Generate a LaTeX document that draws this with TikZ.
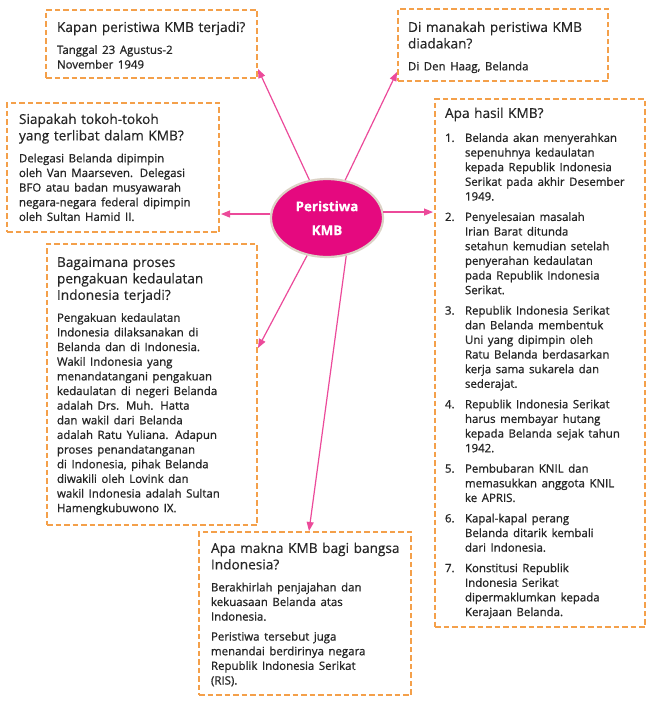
\documentclass[tikz,border=0pt]{standalone}
\usepackage{fontspec}
\setmainfont{Open Sans}[FakeBold=0.35]
\newfontfamily\bodyfont{Open Sans}[FakeBold=0.9]
\usetikzlibrary{arrows.meta,shapes.geometric}
\definecolor{mag}{HTML}{E5097F}
\definecolor{arrc}{HTML}{EC4A9A}
\definecolor{dashc}{HTML}{F4A04A}
\definecolor{txtc}{HTML}{262626}
\definecolor{rim}{HTML}{DCD2C6}
\setlength\parindent{0pt}
\setlength\parskip{0pt}
\newcommand\Hd{\fontsize{13.7}{16.5}\selectfont}
\newcommand\Bd{\bodyfont\fontsize{11.5}{14.7}\selectfont}
\newcommand\TB{\setlength\parindent{0pt}\setlength\parskip{0pt}\Hd}
\newcommand\HB{\par\vspace{7.3bp}\Bd}
\newcommand\IT[1]{\makebox[20bp][l]{#1}}
\newcommand\IN{\hspace*{20bp}}
\newcommand\IG{\par\vspace{5.8bp}}
\tikzset{
  box/.style={draw=dashc, line width=1.3bp, dash pattern=on 5.5bp off 3bp,
    anchor=north west, inner sep=0pt, outer sep=0pt},
  tblock/.style={anchor=north west, inner sep=0pt, outer sep=0pt,
    text width=#1, align=left, text=txtc, font=\TB},
  arr/.style={draw=arrc, line width=1.2bp, -{Triangle[length=9bp,width=7bp]}},
}
\begin{document}
\begin{tikzpicture}[x=1bp,y=-1bp]
\useasboundingbox[fill=white] (0,0) rectangle (650,701);
% boxes
\node[box, minimum width=211bp, minimum height=68bp] (b1) at (46,10) {};
\node[box, minimum width=212bp, minimum height=129bp] (b2) at (7,103) {};
\node[box, minimum width=210bp, minimum height=72bp] (b3) at (398,9) {};
\node[box, minimum width=210bp, minimum height=528bp] (b4) at (435,99) {};
\node[box, minimum width=210bp, minimum height=281bp] (b5) at (47,244) {};
\node[box, minimum width=212bp, minimum height=163bp] (b6) at (199,532) {};
% texts
\node[tblock=198bp] (t1) at (57,20.45) {\strut Kapan peristiwa KMB terjadi?\HB
Tanggal 23 Agustus-2\\November 1949\par};
\node[tblock=198bp] (t2) at (19,112.45) {\strut Siapakah tokoh-tokoh\\yang terlibat dalam KMB?\HB
Delegasi Belanda dipimpin\\oleh Van Maarseven. Delegasi\\BFO atau badan musyawarah\\negara-negara federal dipimpin\\oleh Sultan Hamid II.\par};
\node[tblock=198bp] (t3) at (408,20.45) {\strut Di manakah peristiwa KMB\\diadakan?\HB
Di Den Haag, Belanda\par};
\node[tblock=198bp] (t4) at (445,106.45) {\strut Apa hasil KMB?\par\vspace{9.3bp}\Bd
\IT{1.}Belanda akan menyerahkan\\\IN sepenuhnya kedaulatan\\\IN kepada Republik Indonesia\\\IN Serikat pada akhir Desember\\\IN 1949.\IG
\IT{2.}Penyelesaian masalah\\\IN Irian Barat ditunda\\\IN setahun kemudian setelah\\\IN penyerahan kedaulatan\\\IN pada Republik Indonesia\\\IN Serikat.\IG
\IT{3.}Republik Indonesia Serikat\\\IN dan Belanda membentuk\\\IN Uni yang dipimpin oleh\\\IN Ratu Belanda berdasarkan\\\IN kerja sama sukarela dan\\\IN sederajat.\IG
\IT{4.}Republik Indonesia Serikat\\\IN harus membayar hutang\\\IN kepada Belanda sejak tahun\\\IN 1942.\IG
\IT{5.}Pembubaran KNIL dan\\\IN memasukkan anggota KNIL\\\IN ke APRIS.\IG
\IT{6.}Kapal-kapal perang\\\IN Belanda ditarik kembali\\\IN dari Indonesia.\IG
\IT{7.}Konstitusi Republik\\\IN Indonesia Serikat\\\IN dipermaklumkan kepada\\\IN Kerajaan Belanda.\par};
\node[tblock=198bp] (t5) at (57,255.45) {\strut Bagaimana proses\\pengakuan kedaulatan\\Indonesia terjadi?\HB
Pengakuan kedaulatan\\Indonesia dilaksanakan di\\Belanda dan di Indonesia.\\Wakil Indonesia yang\\menandatangani pengakuan\\kedaulatan di negeri Belanda\\adalah Drs. Muh. Hatta\\dan wakil dari Belanda\\adalah Ratu Yuliana. Adapun\\proses penandatanganan\\di Indonesia, pihak Belanda\\diwakili oleh Lovink dan\\wakil Indonesia adalah Sultan\\Hamengkubuwono IX.\par};
\node[tblock=198bp] (t6) at (211,541.45) {\strut Apa makna KMB bagi bangsa\\Indonesia?\HB
Berakhirlah penjajahan dan\\kekuasaan Belanda atas\\Indonesia.\par\vspace{5.3bp}
Peristiwa tersebut juga\\menandai berdirinya negara\\Republik Indonesia Serikat\\(RIS).\par};
% centre
\node[ellipse, fill=mag, draw=rim, line width=2.2bp, minimum width=112bp, minimum height=78bp,
  inner sep=0pt, text=white, align=center, font=\bfseries\fontsize{13.5}{24}\selectfont] (km) at (327,218) {Peristiwa\\KMB};
% arrow targets
\coordinate (e1) at (258,69);
\coordinate (e2) at (221,214);
\coordinate (e3) at (397,72);
\coordinate (e4) at (433,212);
\coordinate (e5) at (258,348);
\coordinate (e6) at (309,531);
\draw[arr] (km) -- (e1);
\draw[arr] (km) -- (e3);
\draw[arr] (km.176) -- (km.176 -| e2);
\draw[arr] (km.6) -- (km.6 -| e4);
\draw[arr] (km) -- (e5);
\draw[arr] (km.-63) -- (e6);
\end{tikzpicture}
\end{document}
